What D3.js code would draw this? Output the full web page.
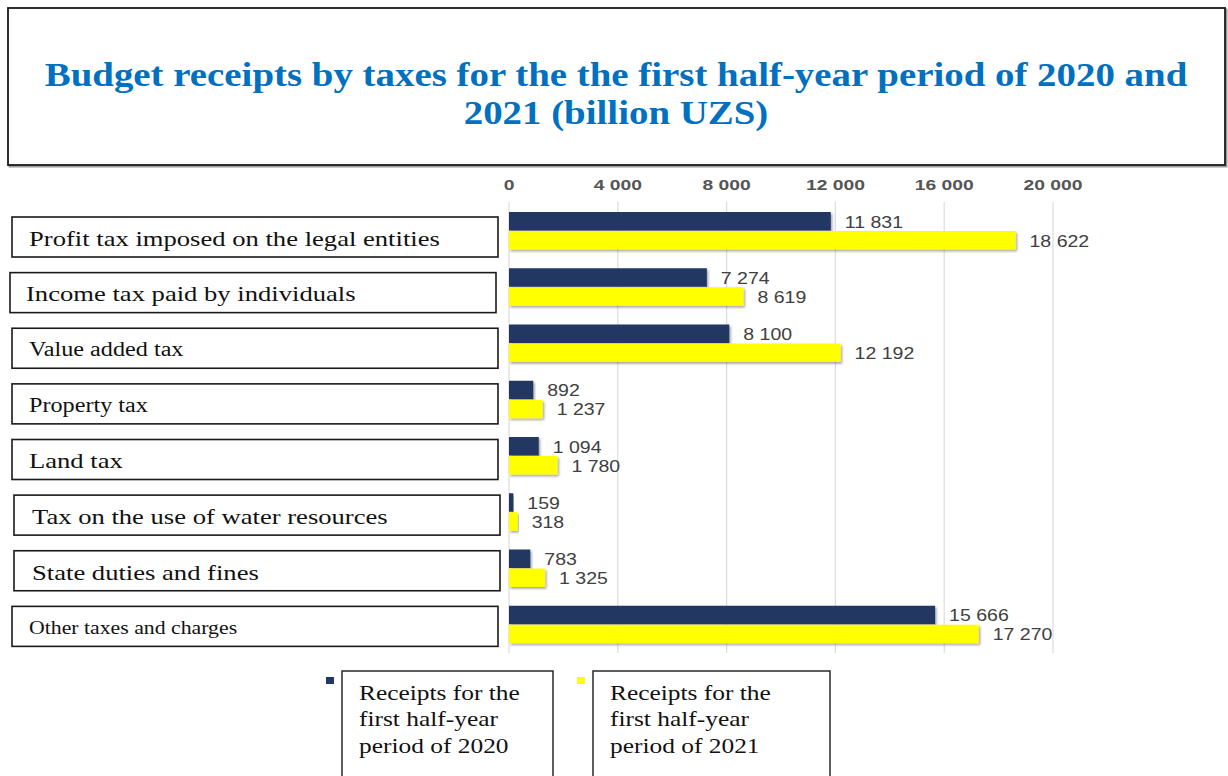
<!DOCTYPE html>
<html>
<head>
<meta charset="utf-8">
<script src="https://cdn.jsdelivr.net/npm/d3@7"></script>
<style>
  html, body { margin: 0; padding: 0; background: #fff; }
  svg { display: block; }
</style>
</head>
<body>
<svg id="chart" width="1228" height="776"></svg>
<script>
// Tax categories (top to bottom)
const categories = [
  "Profit tax imposed on the legal entities",
  "Income tax paid by individuals",
  "Value added tax",
  "Property tax",
  "Land tax",
  "Tax on the use of water resources",
  "State duties and fines",
  "Other taxes and charges"
];
// Receipts, billion UZS
const receipts2020 = [11831, 7274, 8100, 892, 1094, 159, 783, 15666];
const receipts2021 = [18622, 8619, 12192, 1237, 1780, 318, 1325, 17270];
const xTicks = [0, 4000, 8000, 12000, 16000, 20000];
const seriesNames = [
  ["Receipts for the", "first half-year", "period of 2020"],
  ["Receipts for the", "first half-year", "period of 2021"]
];
const titleLines = [
  "Budget receipts by taxes for the the first half-year period of 2020 and",
  "2021 (billion UZS)"
];

// Styling
const colors = ["#203864", "#ffff00"];
const labelSizes = [22, 22, 20, 20, 22, 22, 22, 18];
const boxShift = [0, -2, 0, 0, 0, 2, 2, 0];
const stretch = 1.21;

const svg = d3.select("#chart");
const fmt = v => d3.format(",")(v).replace(/,/g, " ");

const defs = svg.append("defs");
const sh = defs.append("filter").attr("id", "barShadow")
  .attr("x", "-5%").attr("y", "-30%").attr("width", "115%").attr("height", "170%");
sh.append("feDropShadow").attr("dx", 1.5).attr("dy", 1.8)
  .attr("stdDeviation", 1.1).attr("flood-color", "#000").attr("flood-opacity", 0.35);

// Title box
svg.append("rect").attr("x", 9.5).attr("y", 9.5).attr("width", 1217).attr("height", 157)
  .attr("fill", "none").attr("stroke", "#9a9a9a").attr("stroke-width", 2);
svg.append("rect").attr("x", 8).attr("y", 8).attr("width", 1217).attr("height", 157)
  .attr("fill", "#fff").attr("stroke", "#1a1a1a").attr("stroke-width", 1.8);
svg.append("g").selectAll("text").data(titleLines).join("text")
  .attr("transform", (d, i) => `translate(616,${86 + i * 38}) scale(1.144,1)`)
  .attr("text-anchor", "middle")
  .attr("font-family", "'Liberation Serif', 'Times New Roman', serif")
  .attr("font-weight", "bold").attr("font-size", 34)
  .attr("fill", "#0070c0")
  .text(d => d);

// Scales
const x = d3.scaleLinear().domain([0, 20000]).range([509, 1053]);
const y = d3.scaleBand().domain(categories).range([203, 653]);
const yBox = d3.scaleBand().domain(categories).range([217, 662]);
const barH = 19, barTop = 9;

// Gridlines
svg.append("g").selectAll("line").data(xTicks).join("line")
  .attr("x1", d => x(d)).attr("x2", d => x(d))
  .attr("y1", 202).attr("y2", 653)
  .attr("stroke", "#dcdcdc").attr("stroke-width", 1.2);

// Tick labels
svg.append("g").selectAll("text").data(xTicks).join("text")
  .attr("transform", d => `translate(${x(d)},189.5) scale(1.33,1)`)
  .attr("text-anchor", "middle")
  .attr("font-family", "'Liberation Sans', Arial, sans-serif")
  .attr("font-weight", "bold").attr("font-size", 14.5)
  .attr("fill", "#555")
  .text(d => fmt(d));

// Bars with value labels
const series = [receipts2020, receipts2021];
const gBars = svg.append("g");
series.forEach((vals, s) => {
  gBars.append("g").selectAll("rect").data(vals).join("rect")
    .attr("x", x(0))
    .attr("y", (d, i) => y(categories[i]) + barTop + s * barH)
    .attr("width", d => x(d) - x(0))
    .attr("height", barH - 0.5)
    .attr("fill", colors[s])
    .attr("filter", "url(#barShadow)");
  gBars.append("g").selectAll("text").data(vals).join("text")
    .attr("transform", (d, i) =>
      `translate(${x(d) + 14},${y(categories[i]) + barTop + s * barH + barH / 2 + 6}) scale(1.22,1)`)
    .attr("font-family", "'Liberation Sans', Arial, sans-serif")
    .attr("font-size", 16)
    .attr("fill", "#404040")
    .text(d => fmt(d));
});

// Category label boxes
const gLab = svg.append("g");
categories.forEach((c, i) => {
  const top = yBox(c);
  gLab.append("rect")
    .attr("x", 12 + boxShift[i]).attr("y", top)
    .attr("width", 486).attr("height", 40)
    .attr("fill", "#fff").attr("stroke", "#1a1a1a").attr("stroke-width", 1.6);
  gLab.append("text")
    .attr("transform", `translate(${29 + boxShift[i] * 1.5},${top + 20 + 0.4 * labelSizes[i]}) scale(${stretch},1)`)
    .attr("font-family", "'Liberation Serif', 'Times New Roman', serif")
    .attr("font-size", labelSizes[i])
    .attr("fill", "#111")
    .text(c);
});

// Legend
const legendX = [326, 577];
const boxX = [342, 593];
const boxW = [211, 237];
seriesNames.forEach((lines, s) => {
  const g = svg.append("g");
  g.append("rect").attr("x", legendX[s]).attr("y", 677).attr("width", 8).attr("height", 7)
    .attr("fill", colors[s]);
  g.append("rect").attr("x", boxX[s]).attr("y", 671).attr("width", boxW[s]).attr("height", 130)
    .attr("fill", "#fff").attr("stroke", "#1a1a1a").attr("stroke-width", 1.4);
  g.selectAll("text").data(lines).join("text")
    .attr("transform", (d, i) => `translate(${boxX[s] + 17},${699.5 + i * 26.5}) scale(${stretch},1)`)
    .attr("font-family", "'Liberation Serif', 'Times New Roman', serif")
    .attr("font-size", 21)
    .attr("fill", "#111")
    .text(d => d);
});
</script>
</body>
</html>
